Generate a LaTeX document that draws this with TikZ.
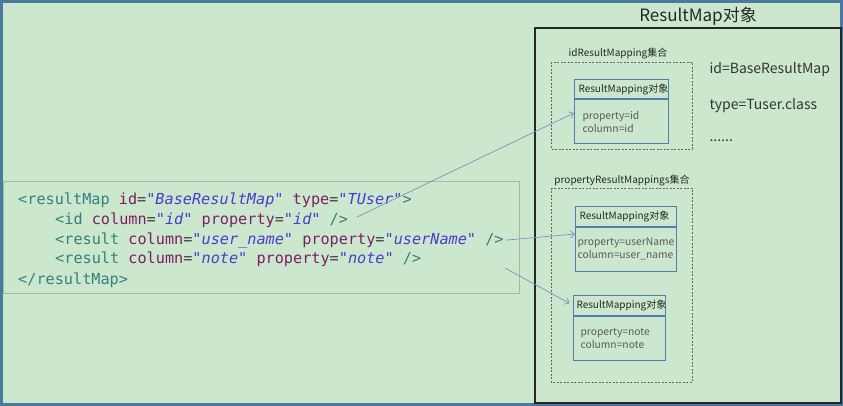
\documentclass[tikz,border=0pt]{standalone}
\usepackage{fontspec}
\setmonofont{DejaVu Sans Mono}
\newfontfamily\cjk{Noto Sans CJK SC}
\usetikzlibrary{arrows.meta,positioning}
\definecolor{mapbg}{RGB}{203,232,206}
\definecolor{mapframe}{RGB}{74,122,158}
\definecolor{mapblue}{RGB}{82,125,178}
\definecolor{maplink}{RGB}{112,150,192}
\definecolor{mapgray}{RGB}{90,90,90}
\definecolor{codetag}{RGB}{52,128,124}
\definecolor{codeattr}{RGB}{125,30,100}
\definecolor{codeval}{RGB}{78,58,205}
\definecolor{codeframe}{RGB}{160,188,164}
\newcommand{\xtag}[1]{\textcolor{codetag}{#1}}
\newcommand{\xattr}[1]{\textcolor{codeattr}{#1}}
\newcommand{\xval}[1]{\textcolor{codeval}{\itshape #1}}

\begin{document}
\begin{tikzpicture}[x=1pt,y=-1pt,
  codeline/.style={anchor=mid west,inner sep=0pt,font=\ttfamily\fontsize{15.2}{18}\selectfont,text=black!75},
  collbox/.style={draw=black!60,dash pattern=on 2pt off 1.5pt,line width=0.5pt},
  colllabel/.style={font=\cjk\fontsize{10}{12}\selectfont,text=black!85},
  rmhead/.style={draw=mapblue,line width=1pt,anchor=north west,minimum height=19.5pt,inner xsep=4pt,align=left,font=\cjk\fontsize{10}{12}\selectfont,text=black!85},
  rmbody/.style={draw=mapblue,line width=1pt,minimum height=44pt,align=left,font=\cjk\fontsize{10.3}{13}\selectfont,text=mapgray},
  maptext/.style={anchor=west,font=\cjk\fontsize{14}{16}\selectfont,text=black!80},
  linkarrow/.style={draw=maplink,line width=0.7pt,-{Straight Barb[length=4pt,width=7pt]}}]
% background and frame
\fill[mapbg] (0,0) rectangle (843,406);
\draw[mapframe,line width=3pt] (1.5,1.5) rectangle (841.5,404.5);
\useasboundingbox (0,0) rectangle (843,406);

% xml snippet
\draw[codeframe,line width=0.8pt] (3,181) rectangle (519,293);
\node[codeline] (line1) at (18,202) {\xtag{<resultMap} \xattr{id}=\xval{"BaseResultMap"} \xattr{type}=\xval{"TUser"}\xtag{>}};
\node[codeline] (line2) at (55,222) {\xtag{<id} \xattr{column}=\xval{"id"} \xattr{property}=\xval{"id"} \xtag{/>}};
\node[codeline] (line3) at (55,242) {\xtag{<result} \xattr{column}=\xval{"user\_name"} \xattr{property}=\xval{"userName"} \xtag{/>}};
\node[codeline] (line4) at (55,261) {\xtag{<result} \xattr{column}=\xval{"note"} \xattr{property}=\xval{"note"} \xtag{/>}};
\node[codeline] (line5) at (18,282) {\xtag{</resultMap>}};
\coordinate (noteStart) at (505,268);

% resultmap object
\node[font=\cjk\fontsize{17}{20}\selectfont,text=black!85] (title) at (698,16) {ResultMap对象};
\draw[black!85,line width=1.3pt] (535,28) rectangle (841,403);
\node[maptext] (idText) at (706,70) {id=BaseResultMap};
\node[maptext] (typeText) at (706,106) {type=Tuser.class};
\node[maptext] (moreText) at (706,141) {......};

% id mappings
\draw[collbox] (551,62) rectangle (692,149);
\node[colllabel] (idSet) at (618,54) {idResultMapping集合};
\node[rmhead,text width=86pt] (head1) at (574,79) {ResultMapping对象};
\node[rmbody,inner xsep=8pt,text width=78pt,below=0pt of head1] (body1) {property=id\\column=id};

% property mappings
\draw[collbox] (551,188) rectangle (692,382);
\node[colllabel] (propSet) at (622,181) {propertyResultMappings集合};
\node[rmhead,text width=93pt] (head2) at (575,206) {ResultMapping对象};
\node[rmbody,inner xsep=2pt,text width=97pt,below=0pt of head2] (body2) {property=userName\\column=user\_name};
\node[rmhead,inner xsep=3pt,text width=86pt] (head3) at (573,295) {ResultMapping对象};
\node[rmbody,inner xsep=7pt,text width=78pt,below=0pt of head3] (body3) {property=note\\column=note};

% links
\draw[linkarrow] ([xshift=9pt,yshift=3pt]line2.east) -- ([yshift=9pt]body1.west);
\draw[linkarrow] ([xshift=2pt]line3.east) -- ([yshift=15pt]body2.west);
\draw[linkarrow,shorten >=4pt] (noteStart) -- (head3.west);
\end{tikzpicture}
\end{document}
